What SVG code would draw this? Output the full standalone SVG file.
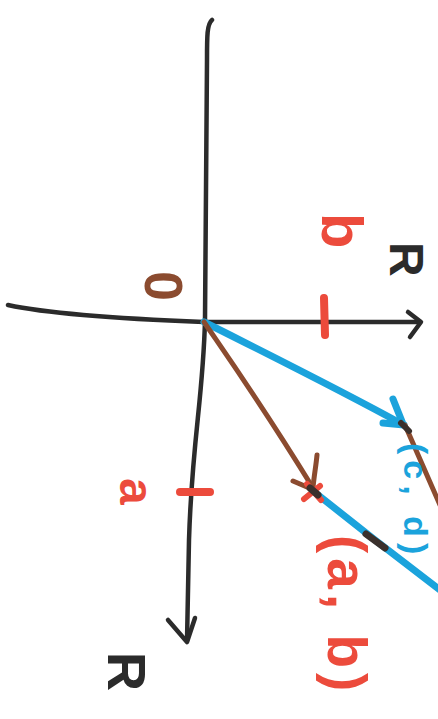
<svg xmlns="http://www.w3.org/2000/svg" width="438" height="719" viewBox="0 0 438 719">
<style>
.ink{fill:none;stroke-linecap:round;stroke-linejoin:round}
.k{stroke:#2b2b2b;stroke-width:4.5}
.bl{stroke:#1ba3dc;stroke-width:7}
.br{stroke:#8b4b2f;stroke-width:5}
.rd{stroke:#ec4b3c;stroke-width:8}
.dk{stroke:#3a302c;stroke-width:7}
text{font-family:"Liberation Sans","DejaVu Sans",sans-serif;font-weight:bold}
.tr{fill:#ec4b3c}
.tb{fill:#1ba3dc}
.tk{fill:#2b2b2b}
.tn{fill:#8b4b2f}
</style>
<rect width="438" height="719" fill="#ffffff"/>
<g id="axes">
  <path class="ink k" d="M212,20 C207,24 207,36 207,60 L205,320 C203,400 192,440 189,540 L187,641"/>
  <path class="ink k" d="M168,620 L187,642 L195,618"/>
  <path class="ink k" d="M8,305 C40,312 100,318 204,322 L420,322"/>
  <path class="ink k" d="M408,312 L421,322 L410,337"/>
  <path class="ink rd" d="M324,298 L325,335"/>
  <path class="ink rd" d="M180,492 L210,492"/>
</g>
<g id="connectors">
  <path class="ink bl" d="M204,322 C280,360 340,390 402,424"/>
  <path class="ink bl" d="M393,399 L403,424 M383,423 L404,425"/>
  <path class="ink bl" d="M313,491 L375,540 L440,590"/>
  <path class="ink br" d="M204,322 C230,360 262,405 313,488"/>
  <path class="ink br" d="M317,455 C316,466 314,476 313,488 M293,481 L314,490"/>
  <path class="ink br" d="M405,425 L440,505"/>
  <path class="ink rd" style="stroke-width:6" d="M304,499 L320,486 M307,484 L321,500"/>
  <path class="ink dk" d="M310,488 L318,495"/>
  <path class="ink dk" style="stroke-width:6" d="M401,423 L409,431"/>
  <path class="ink dk" d="M366,534 L385,548"/>
</g>
<g id="labels">
  <text id="label-R-right" class="tk" font-size="48" transform="translate(390,242) rotate(90)">R</text>
  <text id="label-R-bottom" class="tk" font-size="54" transform="translate(108,652) rotate(90)">R</text>
  <text id="label-b" class="tr" font-size="58" transform="translate(322,213) rotate(90)">b</text>
  <text id="label-a" class="tr" font-size="48" transform="translate(120,478) rotate(90)">a</text>
  <text id="label-0" class="tn" font-size="54" transform="translate(145,271) rotate(90)">0</text>
  <text id="label-ab" class="tr" font-size="55" letter-spacing="5" transform="translate(328,535) rotate(90)">(a, b)</text>
  <text id="label-cd" class="tb" font-size="34" letter-spacing="6" transform="translate(404,443) rotate(90)">(c, d)</text>
</g>
</svg>
